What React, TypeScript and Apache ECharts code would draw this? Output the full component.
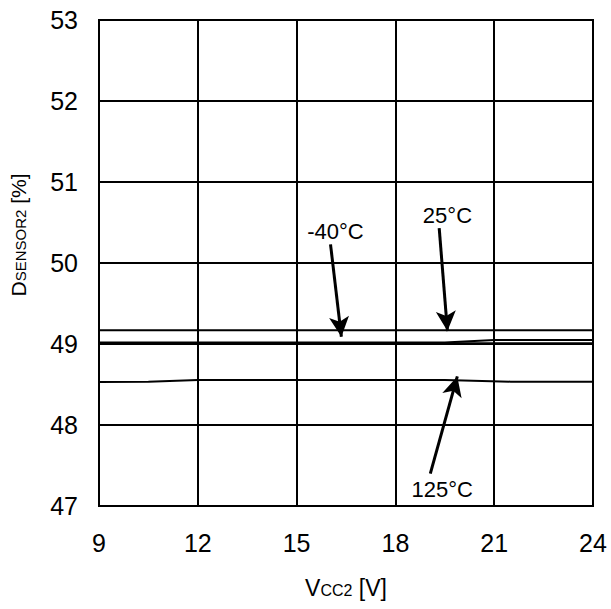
import React, { useEffect, useRef } from "react";
import * as echarts from "echarts";

const xTicks = [9, 12, 15, 18, 21, 24];
const yTicks = [47, 48, 49, 50, 51, 52, 53];

const vccA = [9, 24];
const dA = [49.17, 49.17];
const vccB = [9, 19.5, 21, 24];
const dB = [49.02, 49.02, 49.05, 49.05];
const vccC = [9, 24];
const dC = [49.01, 49.01];
const vcc125 = [9, 10.5, 12, 19.5, 21.5, 24];
const d125 = [48.53, 48.535, 48.555, 48.555, 48.535, 48.535];

const labelNames = ["-40°C", "25°C", "125°C"];
const labelPos = [
  [16.18, 50.39],
  [19.58, 50.59],
  [19.42, 47.2],
];
const arrows = [
  [[16.03, 50.23], [16.36, 49.09]],
  [[19.33, 50.43], [19.58, 49.16]],
  [[19.06, 47.4], [19.88, 48.6]],
];

const zip = (xs: number[], ys: number[]) => xs.map((x, i) => [x, ys[i]]);

export default function App() {
  const ref = useRef<HTMLDivElement>(null);
  useEffect(() => {
    document.body.style.margin = "0";
    const chart = echarts.init(ref.current!, null, { renderer: "svg" });
    const font = "'Liberation Sans', Arial, sans-serif";
    const lineSeries = (name: string, data: number[][]) => ({
      name,
      type: "line",
      data,
      symbol: "none",
      lineStyle: { color: "#000", width: 2 },
      z: 3,
    });
    chart.setOption({
      animation: false,
      backgroundColor: "#fff",
      textStyle: { fontFamily: font },
      grid: {
        left: 98,
        right: 18,
        top: 20,
        bottom: 103,
        show: true,
        borderColor: "#000",
        borderWidth: 2,
      },
      xAxis: {
        type: "value",
        min: xTicks[0],
        max: xTicks[xTicks.length - 1],
        interval: 3,
        axisLine: { show: true, lineStyle: { color: "#000", width: 2 } },
        axisTick: { show: false },
        splitLine: { show: true, lineStyle: { color: "#000", width: 2 } },
        axisLabel: { color: "#000", fontSize: 25, margin: 24, fontFamily: font },
        name: "{a|V}{b|CC2}{a| [V]}",
        nameLocation: "middle",
        nameGap: 70,
        nameTextStyle: {
          rich: {
            a: { fontSize: 23, color: "#000", fontFamily: font, verticalAlign: "bottom" },
            b: { fontSize: 16, color: "#000", fontFamily: font, verticalAlign: "bottom", padding: [0, 0, 1, 0] },
          },
        },
      },
      yAxis: {
        type: "value",
        min: yTicks[0],
        max: yTicks[yTicks.length - 1],
        interval: 1,
        axisLine: { show: true, lineStyle: { color: "#000", width: 2 } },
        axisTick: { show: false },
        splitLine: { show: true, lineStyle: { color: "#000", width: 2 } },
        axisLabel: { color: "#000", fontSize: 25, margin: 21, fontFamily: font },
        name: "{a|D}{b|SENSOR2}{a| [%]}",
        nameLocation: "middle",
        nameRotate: 90,
        nameGap: 70,
        nameTextStyle: {
          padding: [0, 0, 0, 56],
          rich: {
            a: { fontSize: 21, color: "#000", fontFamily: font, verticalAlign: "bottom" },
            b: { fontSize: 15, color: "#000", fontFamily: font, verticalAlign: "bottom", padding: [0, 0, 1, 0] },
          },
        },
      },
      series: [
        lineSeries("A", zip(vccA, dA)),
        lineSeries("-40°C", zip(vccB, dB)),
        lineSeries("25°C", zip(vccC, dC)),
        lineSeries("125°C", zip(vcc125, d125)),
        {
          type: "scatter",
          symbolSize: 0,
          itemStyle: { opacity: 1, color: "#000" },
          data: labelPos.map((p, i) => ({ value: p, name: labelNames[i] })),
          label: {
            show: true,
            position: "inside",
            formatter: (p: any) => p.name,
            color: "#000",
            opacity: 1,
            fontSize: 22,
            fontFamily: font,
          },
          silent: true,
          z: 5,
          markLine: {
            silent: true,
            symbol: ["none", "arrow"],
            symbolSize: [15, 20],
            label: { show: false },
            lineStyle: { color: "#000", width: 3, type: "solid", opacity: 1 },
            data: arrows.map((a) => [{ coord: a[0] }, { coord: a[1] }]),
          },
        },
      ],
    });
    return () => chart.dispose();
  }, []);
  return <div ref={ref} style={{ width: 611, height: 609 }} />;
}
